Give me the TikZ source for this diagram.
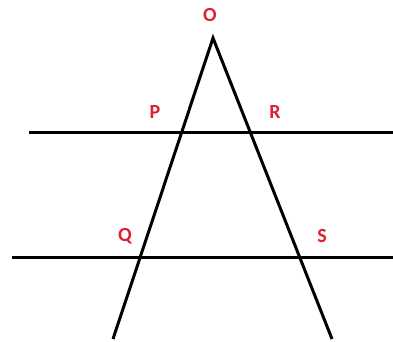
\documentclass[tikz,border=0pt]{standalone}
\usepackage{fontspec}
\setmainfont{Carlito}
\definecolor{lblred}{RGB}{222,32,48}
\begin{document}
\begin{tikzpicture}[x=1pt,y=-1pt,
  ln/.style={line width=3pt,black},
  lbl/.style={text=lblred,font=\bfseries\fontsize{20}{20}\selectfont,inner sep=0pt,anchor=center}]
\useasboundingbox[fill=white] (0,0) rectangle (393,342);
\coordinate (O) at (213,38);
\coordinate (L) at (113,339);
\coordinate (Rb) at (332,339);
\coordinate (T1) at (29,132);
\coordinate (T2) at (393,132);
\coordinate (B1) at (12,257);
\coordinate (B2) at (393,257);
\draw[ln] (T1) -- (T2);
\draw[ln] (B1) -- (B2);
\draw[ln,line join=miter] (L) -- (O) -- (Rb);
\node[lbl] (lo) at (210,15) {O};
\node[lbl] (lp) at (155,112) {P};
\node[lbl] (lr) at (275,112) {R};
\node[lbl] (lq) at (125,236) {Q};
\node[lbl] (ls) at (322,236) {S};
\end{tikzpicture}
\end{document}
